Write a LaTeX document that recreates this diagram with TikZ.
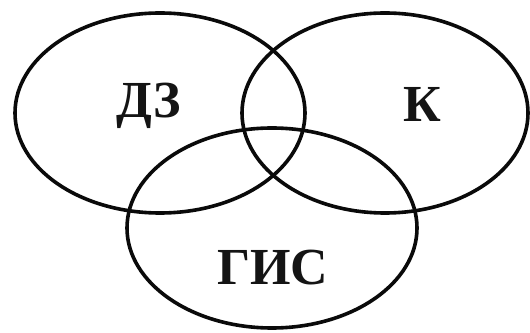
\documentclass[tikz,border=0pt]{standalone}
\usepackage{fontspec}
\setmainfont{Liberation Serif}
\usepackage{tikz}
\definecolor{ringink}{HTML}{0A0A0A}
\definecolor{tagink}{HTML}{141414}
\begin{document}
\begin{tikzpicture}[x=1pt,y=1pt,
  ring/.style={draw=ringink, line width=3.6pt},
  tag/.style={anchor=base, inner sep=0pt, text=tagink, font=\bfseries\fontsize{52}{52}\selectfont}]
\useasboundingbox (0,0) rectangle (530,332);
\fill[white] (0,0) rectangle (530,332);
% three sets
\draw[ring] (160,219) ellipse (145 and 100);
\draw[ring] (385,219) ellipse (143 and 100);
\draw[ring] (272,104) ellipse (145 and 100);
% labels
\node[tag] (dz) at (149,214) {ДЗ};
\node[tag] (k) at (422,210) {К};
\node[tag] (gis) at (273,47) {ГИС};
\end{tikzpicture}
\end{document}
